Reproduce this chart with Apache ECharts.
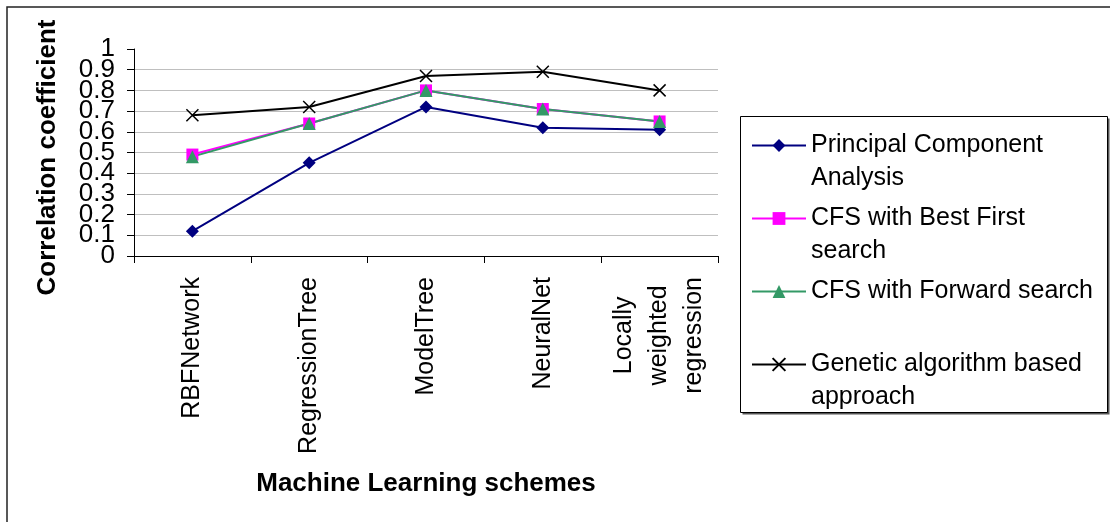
<!DOCTYPE html>
<html>
<head>
<meta charset="utf-8">
<title>Correlation coefficient by machine learning scheme</title>
<script src="https://cdn.jsdelivr.net/npm/echarts@6/dist/echarts.min.js"></script>
<style>
  html, body { margin: 0; padding: 0; background: #fff; }
  #chart { width: 1110px; height: 522px; }
</style>
</head>
<body>
<div id="chart"></div>
<script>
// Machine learning schemes on the category axis
const schemes = ['RBFNetwork', 'RegressionTree', 'ModelTree', 'NeuralNet', 'Locally\nweighted\nregression'];

// Correlation coefficient for each feature-selection method
const pcaValues = [0.12, 0.45, 0.72, 0.62, 0.61];
const cfsBestFirstValues = [0.49, 0.64, 0.80, 0.71, 0.65];
const cfsForwardValues = [0.48, 0.64, 0.80, 0.71, 0.65];
const geneticValues = [0.68, 0.72, 0.87, 0.89, 0.80];

// Series names (legend text)
const seriesNames = [
  'Principal Component\nAnalysis',
  'CFS with Best First\nsearch',
  'CFS with Forward search',
  'Genetic algorithm based\napproach'
];

// Value axis ticks
const yMin = 0, yMax = 1, yStep = 0.1;

const FONT = '"Liberation Sans", Arial, sans-serif';
const chart = echarts.init(document.getElementById('chart'), null, { renderer: 'canvas' });

const crossPath = 'path://M0,0L12,12M12,0L0,12';

function lineSeries(name, data, color, symbol, size, extraItem) {
  return {
    name: name,
    type: 'line',
    yAxisIndex: 0,
    data: data,
    symbol: symbol,
    symbolSize: size,
    showSymbol: true,
    lineStyle: { color: color, width: 2 },
    itemStyle: Object.assign({ color: color }, extraItem || {}),
    emphasis: { disabled: true },
    animation: false
  };
}

// Gridlines at 0.1 .. 0.9 only (0 is the axis line, none at 1)
const gridColors = [];
for (let v = yMin, i = 0; v <= yMax + 1e-9; v += yStep, i++) {
  gridColors.push(i === 0 || Math.abs(v - yMax) < 1e-9 ? 'rgba(0,0,0,0)' : '#bfbfbf');
}

// Tick labels are large relative to the tick spacing, so the even and odd tenths
// are written by two coincident value axes (keeps every label visible).
function tenthsLabel(wantOdd) {
  return function (v) {
    const t = Math.round(v * 10);
    return (t % 2 === 1) === wantOdd ? String(t / 10) : '';
  };
}

// Legend entries are laid out as three text rows each, the marker sitting on the
// row holding the first line of the name, so every entry has the same height.
function legendText(name) {
  const rows = name.split('\n');
  if (rows.length === 1) rows.push(' ');
  return [' '].concat(rows).map(function (s) { return '{t|' + s + '}'; }).join('\n');
}

const yLabelBase = { margin: 19, color: '#000', fontFamily: FONT, fontSize: 26 };

const option = {
  backgroundColor: '#ffffff',
  textStyle: { fontFamily: FONT },
  animation: false,
  grid: { left: 134, right: 392, top: 49, bottom: 266, containLabel: false },
  xAxis: {
    type: 'category',
    data: schemes,
    boundaryGap: true,
    name: 'Machine Learning schemes',
    nameLocation: 'middle',
    nameGap: 215,
    nameTextStyle: { fontFamily: FONT, fontSize: 26, fontWeight: 'bold', color: '#000' },
    axisLine: { lineStyle: { color: '#000', width: 1 } },
    axisTick: { show: true, alignWithLabel: false, length: 7, lineStyle: { color: '#000' } },
    axisLabel: {
      rotate: 90,
      margin: 21,
      interval: 0,
      color: '#000',
      fontFamily: FONT,
      fontSize: 25,
      formatter: function (v) {
        return v.split('\n').map(function (s) { return '{c|' + s + '}'; }).join('\n');
      },
      rich: { c: { align: 'center', fontFamily: FONT, fontSize: 25, lineHeight: 35, color: '#000' } }
    },
    splitLine: { show: false }
  },
  yAxis: [
    {
      type: 'value',
      position: 'left',
      min: yMin,
      max: yMax,
      interval: yStep,
      name: 'Correlation coefficient',
      nameLocation: 'middle',
      nameRotate: 90,
      nameGap: 73,
      nameTextStyle: { fontFamily: FONT, fontSize: 26, fontWeight: 'bold', color: '#000', padding: [0, 10, 0, 0] },
      axisLine: { show: true, lineStyle: { color: '#000', width: 1 } },
      axisTick: { show: true, length: 7, lineStyle: { color: '#000' } },
      axisLabel: Object.assign({}, yLabelBase, {
        showMinLabel: true,
        showMaxLabel: true,
        formatter: tenthsLabel(false)
      }),
      splitLine: { show: true, lineStyle: { color: gridColors, width: 1 } }
    },
    {
      type: 'value',
      position: 'left',
      offset: 0,
      min: yMin,
      max: yMax,
      interval: yStep,
      axisLine: { show: false },
      axisTick: { show: false },
      splitLine: { show: false },
      axisLabel: Object.assign({}, yLabelBase, {
        showMinLabel: false,
        showMaxLabel: false,
        formatter: tenthsLabel(true)
      })
    }
  ],
  legend: {
    orient: 'vertical',
    left: 751,
    top: 100,
    padding: 0,
    itemWidth: 54,
    itemHeight: 16,
    itemGap: -18,
    selectedMode: false,
    formatter: legendText,
    textStyle: {
      fontFamily: FONT,
      fontSize: 25,
      color: '#000',
      rich: { t: { fontFamily: FONT, fontSize: 25, lineHeight: 33, color: '#000' } }
    },
    data: seriesNames
  },
  graphic: [
    {
      type: 'rect',
      silent: true,
      z: -10,
      shape: { x: 7, y: 7, width: 1120, height: 530 },
      style: { fill: 'none', stroke: '#222', lineWidth: 1.5 }
    },
    {
      type: 'rect',
      silent: true,
      z: -5,
      shape: { x: 742.5, y: 118.5, width: 367, height: 296 },
      style: { fill: '#555' }
    },
    {
      type: 'rect',
      silent: true,
      z: -4,
      shape: { x: 740.5, y: 116.5, width: 367, height: 296 },
      style: { fill: '#fff', stroke: '#000', lineWidth: 1 }
    }
  ],
  series: [
    lineSeries(seriesNames[0], pcaValues, '#000080', 'diamond', 13),
    lineSeries(seriesNames[1], cfsBestFirstValues, '#ff00ff', 'rect', 12),
    lineSeries(seriesNames[2], cfsForwardValues, '#339966', 'triangle', 13),
    lineSeries(seriesNames[3], geneticValues, '#000000', crossPath, 12,
      { borderColor: '#000000', borderWidth: 1.5 })
  ]
};

chart.setOption(option);
</script>
</body>
</html>
